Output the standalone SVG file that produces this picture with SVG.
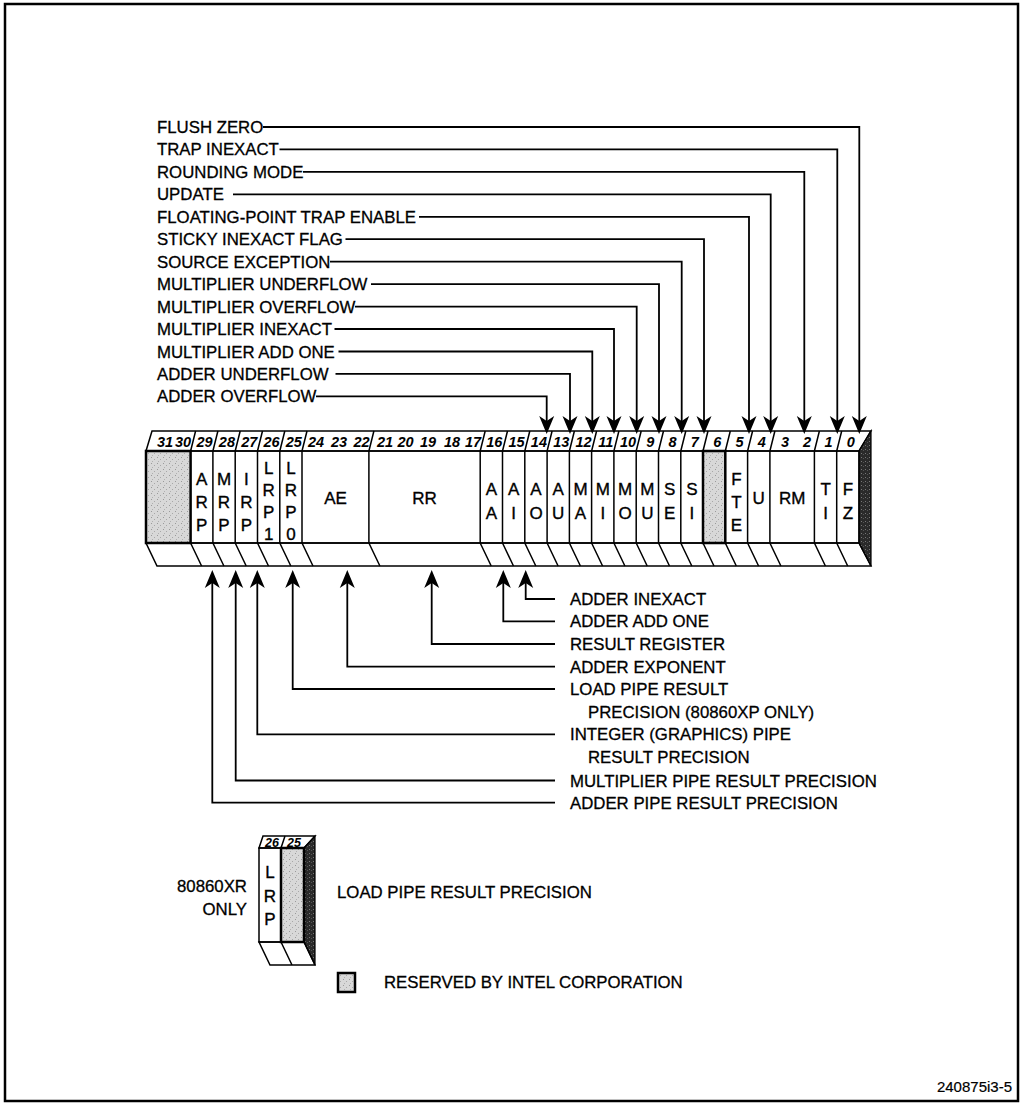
<svg xmlns="http://www.w3.org/2000/svg" width="1021" height="1105" viewBox="0 0 1021 1105">
<defs>
<pattern id="stip" width="6" height="6" patternUnits="userSpaceOnUse">
<rect width="6" height="6" fill="#d8d8d8"/>
<rect x="1" y="1" width="1" height="1" fill="#9a9a9a"/>
<rect x="4" y="3" width="1" height="1" fill="#a8a8a8"/>
<rect x="2" y="5" width="1" height="1" fill="#b0b0b0"/>
</pattern>
<pattern id="dark" width="4" height="4" patternUnits="userSpaceOnUse">
<rect width="4" height="4" fill="#2a2a2a"/>
<rect x="1" y="1" width="1" height="1" fill="#777"/>
<rect x="3" y="2" width="1" height="1" fill="#555"/>
</pattern>
<marker id="ah" markerUnits="userSpaceOnUse" markerWidth="20" markerHeight="18" refX="14" refY="8" orient="auto">
<path d="M18,8 L0,0.5 L5,8 L0,15.5 Z" fill="#000"/>
</marker>
</defs>
<style>
text{font-family:"Liberation Sans",Arial,Helvetica,sans-serif;fill:#000;stroke:#000}
.lbl{font-size:16.8px;stroke-width:0.3}
.bit{font-size:17px;text-anchor:middle;stroke-width:0.35}
.num{font-size:14.5px;font-style:italic;font-weight:bold;text-anchor:middle;stroke-width:0}
.ln{fill:none;stroke:#000;stroke-width:1.5}
.ar{fill:none;stroke:#000;stroke-width:1.8;marker-end:url(#ah)}
.res{fill:url(#stip);stroke:#000;stroke-width:2.5}
</style>
<rect x="5" y="4" width="1013" height="1097" fill="#fff" stroke="#000" stroke-width="2.5"/>

<g id="register">
<path class="ln" d="M146,451 L152,431 L871,431 L859,451 Z" fill="#fff"/>
<path d="M859,451 L871,431 L871,566 L859,543 Z" fill="url(#dark)" stroke="#000" stroke-width="1.2"/>
<path class="ln" d="M146,543 L859,543 L871,566 L157,566 Z" fill="#fff"/>
<rect class="ln" x="146" y="451" width="713" height="92" fill="#fff"/>
<rect class="res" x="146" y="451" width="44.6" height="92"/>
<rect class="res" x="703" y="451" width="22.3" height="92"/>
<path class="ln" d="M190.6,451 L195.6,431 M212.9,451 L217.9,431 M235.2,451 L240.2,431 M257.5,451 L262.5,431 M279.8,451 L284.8,431 M302,451 L307,431 M368.9,451 L373.9,431 M480.2,451 L485.2,431 M502.5,451 L507.5,431 M524.8,451 L529.8,431 M547.1,451 L552.1,431 M569.4,451 L574.4,431 M591.6,451 L596.6,431 M613.9,451 L618.9,431 M636.2,451 L641.2,431 M658.5,451 L663.5,431 M680.8,451 L685.8,431 M703,451 L708,431 M725.3,451 L730.3,431 M747.6,451 L752.6,431 M769.9,451 L774.9,431 M814.4,451 L819.4,431 M836.7,451 L841.7,431"/>
<path class="ln" d="M212.9,451 V543 M235.2,451 V543 M257.5,451 V543 M279.8,451 V543 M302,451 V543 M368.9,451 V543 M480.2,451 V543 M502.5,451 V543 M524.8,451 V543 M547.1,451 V543 M569.4,451 V543 M591.6,451 V543 M613.9,451 V543 M636.2,451 V543 M658.5,451 V543 M680.8,451 V543 M747.6,451 V543 M769.9,451 V543 M814.4,451 V543 M836.7,451 V543"/>
<path class="ln" d="M190.6,543 L201.6,566 M212.9,543 L223.9,566 M235.2,543 L246.2,566 M257.5,543 L268.5,566 M279.8,543 L290.8,566 M302,543 L313,566 M368.9,543 L379.9,566 M480.2,543 L491.2,566 M502.5,543 L513.5,566 M524.8,543 L535.8,566 M547.1,543 L558.1,566 M569.4,543 L580.4,566 M591.6,543 L602.6,566 M613.9,543 L624.9,566 M636.2,543 L647.2,566 M658.5,543 L669.5,566 M680.8,543 L691.8,566 M703,543 L714,566 M725.3,543 L736.3,566 M747.6,543 L758.6,566 M769.9,543 L780.9,566 M814.4,543 L825.4,566 M836.7,543 L847.7,566"/>
<g id="bitnums">
<text class="num" x="165" y="446.5">31</text>
<text class="num" x="183" y="446.5">30</text>
<text class="num" x="204.6" y="446.5">29</text>
<text class="num" x="226.9" y="446.5">28</text>
<text class="num" x="249.2" y="446.5">27</text>
<text class="num" x="271.5" y="446.5">26</text>
<text class="num" x="293.7" y="446.5">25</text>
<text class="num" x="316" y="446.5">24</text>
<text class="num" x="339" y="446.5">23</text>
<text class="num" x="361.5" y="446.5">22</text>
<text class="num" x="385" y="446.5">21</text>
<text class="num" x="405.5" y="446.5">20</text>
<text class="num" x="428" y="446.5">19</text>
<text class="num" x="452" y="446.5">18</text>
<text class="num" x="473" y="446.5">17</text>
<text class="num" x="494.3" y="446.5">16</text>
<text class="num" x="516.6" y="446.5">15</text>
<text class="num" x="538.9" y="446.5">14</text>
<text class="num" x="561.2" y="446.5">13</text>
<text class="num" x="583.5" y="446.5">12</text>
<text class="num" x="605.7" y="446.5">11</text>
<text class="num" x="628" y="446.5">10</text>
<text class="num" x="650.3" y="446.5">9</text>
<text class="num" x="672.6" y="446.5">8</text>
<text class="num" x="694.9" y="446.5">7</text>
<text class="num" x="717.2" y="446.5">6</text>
<text class="num" x="739.5" y="446.5">5</text>
<text class="num" x="761.7" y="446.5">4</text>
<text class="num" x="785" y="446.5">3</text>
<text class="num" x="807" y="446.5">2</text>
<text class="num" x="828.6" y="446.5">1</text>
<text class="num" x="850.9" y="446.5">0</text>
</g>
</g>

<g id="f29"><text class="bit" x="201.7" y="485">A</text><text class="bit" x="201.7" y="508">R</text><text class="bit" x="201.7" y="531">P</text></g>
<g id="f28"><text class="bit" x="224" y="485">M</text><text class="bit" x="224" y="508">R</text><text class="bit" x="224" y="531">P</text></g>
<g id="f27"><text class="bit" x="246.3" y="485">I</text><text class="bit" x="246.3" y="508">R</text><text class="bit" x="246.3" y="531">P</text></g>
<g id="f26"><text class="bit" x="268.7" y="474">L</text><text class="bit" x="268.7" y="496">R</text><text class="bit" x="268.7" y="518">P</text><text class="bit" x="268.7" y="540">1</text></g>
<g id="f25"><text class="bit" x="290.9" y="474">L</text><text class="bit" x="290.9" y="496">R</text><text class="bit" x="290.9" y="518">P</text><text class="bit" x="290.9" y="540">0</text></g>
<g id="fAE"><text class="bit" x="335.5" y="504">AE</text></g>
<g id="fRR"><text class="bit" x="424.6" y="504">RR</text></g>
<g id="f16"><text class="bit" x="491.3" y="495">A</text><text class="bit" x="491.3" y="519">A</text></g>
<g id="f15"><text class="bit" x="513.7" y="495">A</text><text class="bit" x="513.7" y="519">I</text></g>
<g id="f14"><text class="bit" x="536" y="495">A</text><text class="bit" x="536" y="519">O</text></g>
<g id="f13"><text class="bit" x="558.2" y="495">A</text><text class="bit" x="558.2" y="519">U</text></g>
<g id="f12"><text class="bit" x="580.5" y="495">M</text><text class="bit" x="580.5" y="519">A</text></g>
<g id="f11"><text class="bit" x="602.8" y="495">M</text><text class="bit" x="602.8" y="519">I</text></g>
<g id="f10"><text class="bit" x="625" y="495">M</text><text class="bit" x="625" y="519">O</text></g>
<g id="f9"><text class="bit" x="647.3" y="495">M</text><text class="bit" x="647.3" y="519">U</text></g>
<g id="f8"><text class="bit" x="669.6" y="495">S</text><text class="bit" x="669.6" y="519">E</text></g>
<g id="f7"><text class="bit" x="691.9" y="495">S</text><text class="bit" x="691.9" y="519">I</text></g>
<g id="f5"><text class="bit" x="736.5" y="485">F</text><text class="bit" x="736.5" y="508">T</text><text class="bit" x="736.5" y="531">E</text></g>
<g id="f4"><text class="bit" x="758.7" y="504">U</text></g>
<g id="fRM"><text class="bit" x="792.2" y="504">RM</text></g>
<g id="f1"><text class="bit" x="825.6" y="495">T</text><text class="bit" x="825.6" y="519">I</text></g>
<g id="f0"><text class="bit" x="847.9" y="495">F</text><text class="bit" x="847.9" y="519">Z</text></g>

<g id="top-labels">
<text class="lbl" x="157" y="133">FLUSH ZERO</text>
<text class="lbl" x="157" y="155.4">TRAP INEXACT</text>
<text class="lbl" x="157" y="177.9">ROUNDING MODE</text>
<text class="lbl" x="157" y="200.3">UPDATE</text>
<text class="lbl" x="157" y="222.8">FLOATING-POINT TRAP ENABLE</text>
<text class="lbl" x="157" y="245.2">STICKY INEXACT FLAG</text>
<text class="lbl" x="157" y="267.7">SOURCE EXCEPTION</text>
<text class="lbl" x="157" y="290.1">MULTIPLIER UNDERFLOW</text>
<text class="lbl" x="157" y="312.6">MULTIPLIER OVERFLOW</text>
<text class="lbl" x="157" y="335">MULTIPLIER INEXACT</text>
<text class="lbl" x="157" y="357.5">MULTIPLIER ADD ONE</text>
<text class="lbl" x="157" y="379.9">ADDER UNDERFLOW</text>
<text class="lbl" x="157" y="402.4">ADDER OVERFLOW</text>
</g>

<g id="bottom-labels">
<text class="lbl" x="570" y="605">ADDER INEXACT</text>
<text class="lbl" x="570" y="627.3">ADDER ADD ONE</text>
<text class="lbl" x="570" y="650">RESULT REGISTER</text>
<text class="lbl" x="570" y="672.7">ADDER EXPONENT</text>
<text class="lbl" x="570" y="695">LOAD PIPE RESULT</text>
<text class="lbl" x="588" y="717.7">PRECISION (80860XP ONLY)</text>
<text class="lbl" x="570" y="740.3">INTEGER (GRAPHICS) PIPE</text>
<text class="lbl" x="588" y="762.7">RESULT PRECISION</text>
<text class="lbl" x="570" y="786.5">MULTIPLIER PIPE RESULT PRECISION</text>
<text class="lbl" x="570" y="808.7">ADDER PIPE RESULT PRECISION</text>
</g>

<g id="connectors">
<path class="ar" d="M263,127 H859.3 V430"/>
<path class="ar" d="M279.5,149.4 H837.3 V430"/>
<path class="ar" d="M303,171.9 H804.3 V430"/>
<path class="ar" d="M233,194.3 H770.7 V430"/>
<path class="ar" d="M419,216.8 H749 V430"/>
<path class="ar" d="M345.5,239.2 H704 V430"/>
<path class="ar" d="M330,261.7 H681.7 V430"/>
<path class="ar" d="M371,284.1 H659 V430"/>
<path class="ar" d="M355,306.6 H636.7 V430"/>
<path class="ar" d="M334.5,329 H614 V430"/>
<path class="ar" d="M338.5,351.5 H592.3 V430"/>
<path class="ar" d="M335.5,373.9 H570 V430"/>
<path class="ar" d="M316,396.4 H546.7 V430"/>
<path class="ar" d="M555,599 H525.7 V574"/>
<path class="ar" d="M555,621.3 H503.3 V574"/>
<path class="ar" d="M555,644 H431.7 V574"/>
<path class="ar" d="M555,666.7 H347.3 V574"/>
<path class="ar" d="M555,689 H292.7 V574"/>
<path class="ar" d="M555,734.3 H257.3 V574"/>
<path class="ar" d="M555,780.5 H235.7 V574"/>
<path class="ar" d="M555,802.7 H212.3 V574"/>
</g>

<g id="xr-register">
<path class="ln" d="M259,848 L263,836 L315,836 L304,848 Z" fill="#fff"/>
<path class="ln" d="M281,848 L285,836"/>
<text class="num" x="272" y="846.5" style="font-size:12.5px">26</text>
<text class="num" x="294" y="846.5" style="font-size:12.5px">25</text>
<path d="M304,848 L315,836 L315,965 L304,942 Z" fill="url(#dark)" stroke="#000" stroke-width="1.2"/>
<rect class="ln" x="259" y="848" width="22" height="94" fill="#fff"/>
<rect class="res" x="281" y="848" width="23" height="94"/>
<path class="ln" d="M259,942 L304,942 L315,965 L270,965 Z M281,942 L292,965" fill="#fff"/>
<text class="bit" x="270" y="878">L</text>
<text class="bit" x="270" y="902">R</text>
<text class="bit" x="270" y="925">P</text>
</g>
<g id="xr-labels">
<text class="lbl" x="247" y="892" text-anchor="end">80860XR</text>
<text class="lbl" x="247" y="915" text-anchor="end">ONLY</text>
<text class="lbl" x="337" y="898">LOAD PIPE RESULT PRECISION</text>
</g>
<g id="legend">
<rect class="res" x="338" y="973" width="17" height="19" stroke-width="2"/>
<text class="lbl" x="384" y="988">RESERVED BY INTEL CORPORATION</text>
</g>
<text x="1012" y="1092" text-anchor="end" style="font-size:15px;stroke-width:0.2">240875i3-5</text>
</svg>
